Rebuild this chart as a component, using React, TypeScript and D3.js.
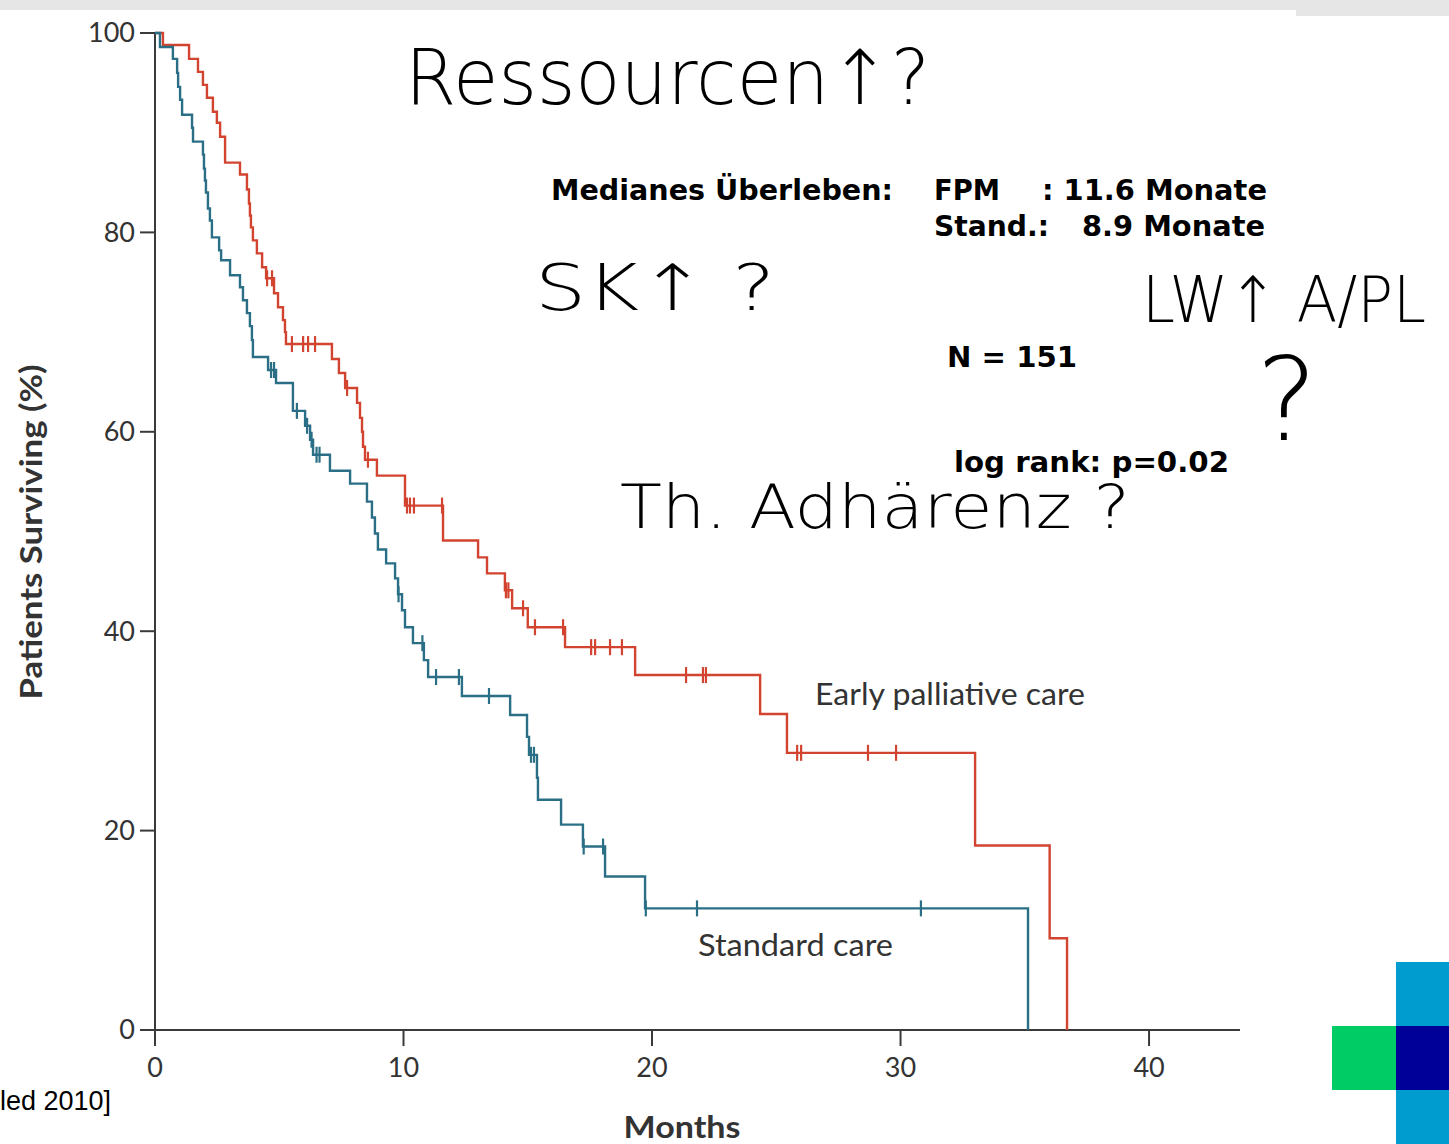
import React from 'react';
import * as d3 from 'd3';

// Kaplan-Meier steps: [months, % surviving after the drop]
const earlySteps: [number, number][] = [
  [0, 100], [0.32, 98.8], [1.37, 97.4], [1.73, 96.1], [1.93, 94.8], [2.09, 93.5],
  [2.33, 92.1], [2.49, 91.0], [2.62, 89.6], [2.82, 87.0], [3.42, 85.8], [3.7, 84.3],
  [3.78, 82.9], [3.82, 81.7], [3.86, 80.5], [3.94, 79.2], [4.1, 77.9], [4.31, 76.5],
  [4.47, 75.4], [4.79, 73.9], [4.95, 72.5], [5.15, 71.2], [5.23, 70.0], [5.27, 68.8],
  [7.12, 67.3], [7.4, 65.9], [7.65, 64.4], [8.13, 62.9], [8.25, 61.4], [8.33, 60.0],
  [8.37, 58.5], [8.45, 57.2], [8.93, 55.6], [10.06, 52.6], [11.59, 49.1], [13.0, 47.4],
  [13.36, 45.8], [14.08, 44.1], [14.37, 42.3], [15.0, 40.4], [16.5, 38.4], [19.32, 35.6],
  [24.35, 31.7], [25.43, 27.8], [33.0, 18.5], [36.0, 9.2], [36.7, 0],
];
const earlyCensored = [
  4.51, 4.71, 5.51, 5.96, 6.16, 6.44, 7.73, 8.57, 10.14, 10.26, 10.42, 11.55,
  14.12, 14.22, 14.81, 15.29, 16.42, 17.55, 17.71, 18.31, 18.79, 21.37, 22.05,
  22.17, 25.84, 26.0, 28.69, 29.82,
];

const standardSteps: [number, number][] = [
  [0, 100], [0.2, 98.6], [0.72, 97.4], [0.89, 96.0], [0.93, 94.6], [1.01, 93.3],
  [1.09, 91.8], [1.49, 90.5], [1.53, 89.1], [1.93, 87.8], [1.97, 86.4], [2.01, 85.2],
  [2.05, 84.0], [2.13, 82.4], [2.21, 81.2], [2.29, 79.5], [2.58, 78.2], [2.66, 77.2],
  [3.02, 75.7], [3.42, 74.5], [3.54, 73.2], [3.7, 71.9], [3.82, 70.6], [3.9, 69.2],
  [3.94, 67.5], [4.55, 66.2], [4.87, 64.9], [5.55, 62.1], [6.04, 60.6], [6.24, 59.2],
  [6.36, 57.7], [7.04, 56.1], [7.85, 54.8], [8.53, 53.0], [8.73, 51.4], [8.85, 49.8],
  [8.97, 48.2], [9.3, 46.8], [9.66, 45.3], [9.78, 43.7], [9.94, 42.1], [10.06, 40.4],
  [10.38, 38.8], [10.82, 37.1], [10.99, 35.4], [12.35, 33.5], [14.29, 31.6], [14.97, 29.4],
  [15.05, 27.6], [15.37, 25.3], [15.41, 23.1], [16.34, 20.6], [17.22, 18.4], [18.11, 15.4],
  [19.72, 12.2], [35.13, 0],
];
const standardCensored = [
  4.67, 4.79, 5.71, 6.12, 6.3, 6.5, 6.62, 9.8, 10.76, 11.31, 12.23, 13.44,
  15.13, 15.25, 17.25, 18.03, 19.75, 21.81, 30.82,
];

const yTicks = [0, 20, 40, 60, 80, 100];
const xTicks = [0, 10, 20, 30, 40];

const RED = '#d2442f';
const BLUE = '#2a6f86';
const AXIS = '#3a3a3a';
const CHART_FONT = 'Lato, "Open Sans", sans-serif';
const NOTE_FONT = '"DejaVu Sans", Verdana, sans-serif';
const HAND_FONT = '"DejaVu Sans", sans-serif';

function levelAt(steps: [number, number][], t: number) {
  let s = steps[0][1];
  for (const [ti, si] of steps) {
    if (ti <= t) s = si;
  }
  return s;
}

export default function App() {
  const x = d3.scaleLinear().domain([0, 43.66]).range([155, 1240]);
  const y = d3.scaleLinear().domain([0, 100]).range([1030, 33]);

  const line = d3
    .line<[number, number]>()
    .x((d) => x(d[0]))
    .y((d) => y(d[1]))
    .curve(d3.curveStepAfter);

  const curves = [
    { steps: earlySteps, censored: earlyCensored, color: RED },
    { steps: standardSteps, censored: standardCensored, color: BLUE },
  ];

  return (
    <svg
      width={1449}
      height={1144}
      style={{ position: 'absolute', left: 0, top: 0, background: '#fff' }}
    >
      {/* top grey strip */}
      <rect x={0} y={0} width={1449} height={10} fill="#e6e6e6" />
      <rect x={1296} y={10} width={153} height={6} fill="#e6e6e6" />

      {/* axes */}
      <line x1={155} x2={155} y1={y(100)} y2={y(0)} stroke={AXIS} strokeWidth={2} />
      <line x1={140} x2={x(43.66)} y1={y(0)} y2={y(0)} stroke={AXIS} strokeWidth={2} />
      {yTicks.map((t) => (
        <g key={'y' + t}>
          <line x1={140} x2={155} y1={y(t)} y2={y(t)} stroke={AXIS} strokeWidth={2} />
          <text
            x={135}
            y={y(t)}
            dy="0.35em"
            textAnchor="end"
            fontFamily={CHART_FONT}
            fontSize={27}
            fill="#333"
          >
            {t}
          </text>
        </g>
      ))}
      {xTicks.map((t) => (
        <g key={'x' + t}>
          <line x1={x(t)} x2={x(t)} y1={y(0)} y2={y(0) + 16} stroke={AXIS} strokeWidth={2} />
          <text
            x={x(t)}
            y={1068}
            dy="0.35em"
            textAnchor="middle"
            fontFamily={CHART_FONT}
            fontSize={27}
            fill="#333"
          >
            {t}
          </text>
        </g>
      ))}
      <text
        x={682}
        y={1138}
        textAnchor="middle"
        fontFamily={CHART_FONT}
        fontWeight={700}
        fontSize={31}
        textLength={117}
        lengthAdjust="spacingAndGlyphs"
        fill="#333"
      >
        Months
      </text>
      <text
        transform="translate(31,532) rotate(-90)"
        dy="0.35em"
        textAnchor="middle"
        fontFamily={CHART_FONT}
        fontWeight={700}
        fontSize={31}
        textLength={335}
        lengthAdjust="spacingAndGlyphs"
        fill="#333"
      >
        Patients Surviving (%)
      </text>

      {/* survival curves */}
      {curves.map((c, i) => (
        <g key={i}>
          <path d={line(c.steps) || ''} fill="none" stroke={c.color} strokeWidth={2.4} />
          {c.censored.map((t, j) => (
            <line
              key={j}
              x1={x(t)}
              x2={x(t)}
              y1={y(levelAt(c.steps, t)) - 8}
              y2={y(levelAt(c.steps, t)) + 8}
              stroke={c.color}
              strokeWidth={2.2}
            />
          ))}
        </g>
      ))}

      <text
        x={815}
        y={694}
        dy="0.35em"
        fontFamily={CHART_FONT}
        fontSize={30}
        textLength={270}
        lengthAdjust="spacingAndGlyphs"
        fill="#333"
      >
        Early palliative care
      </text>
      <text
        x={698}
        y={945}
        dy="0.35em"
        fontFamily={CHART_FONT}
        fontSize={30}
        textLength={195}
        lengthAdjust="spacingAndGlyphs"
        fill="#333"
      >
        Standard care
      </text>

      {/* typed notes */}
      <g fontFamily={NOTE_FONT} fontWeight={700} fontSize={28} fill="#000">
        <text x={551} y={200} textLength={342} lengthAdjust="spacingAndGlyphs">Medianes Überleben:</text>
        <text x={934} y={200} textLength={66} lengthAdjust="spacingAndGlyphs">FPM</text>
        <text x={1042} y={200} textLength={225} lengthAdjust="spacingAndGlyphs">: 11.6 Monate</text>
        <text x={934} y={236} textLength={115} lengthAdjust="spacingAndGlyphs">Stand.:</text>
        <text x={1082} y={236} textLength={183} lengthAdjust="spacingAndGlyphs">8.9 Monate</text>
        <text x={947} y={367} textLength={130} lengthAdjust="spacingAndGlyphs">N = 151</text>
        <text x={954} y={472} textLength={275} lengthAdjust="spacingAndGlyphs">log rank: p=0.02</text>
      </g>

      {/* handwritten notes */}
      <g fontFamily={HAND_FONT} fontWeight={200} fill="#000">
        <text x={405} y={104} fontSize={76} textLength={525} lengthAdjust="spacingAndGlyphs">
          Ressourcen↑?
        </text>
        <text x={535} y={310} fontSize={64} textLength={240} lengthAdjust="spacingAndGlyphs">
          SK↑ ?
        </text>
        <text x={1142} y={322} fontSize={64} textLength={284} lengthAdjust="spacingAndGlyphs">
          LW↑ A/PL
        </text>
        <text x={1256} y={440} fontSize={116}>?</text>
        <text x={620} y={528} fontSize={60} textLength={510} lengthAdjust="spacingAndGlyphs">
          Th. Adhärenz ?
        </text>
      </g>

      {/* citation, cut at the left edge */}
      <text x={0} y={1110} fontFamily='"Liberation Sans", Arial, sans-serif' fontSize={27} fill="#000">
        led 2010]
      </text>

      {/* logo squares */}
      <rect x={1396} y={962} width={53} height={64} fill="#009bcf" />
      <rect x={1332} y={1026} width={64} height={64} fill="#00cc66" />
      <rect x={1396} y={1026} width={53} height={64} fill="#000099" />
      <rect x={1396} y={1090} width={53} height={54} fill="#009bcf" />
    </svg>
  );
}
